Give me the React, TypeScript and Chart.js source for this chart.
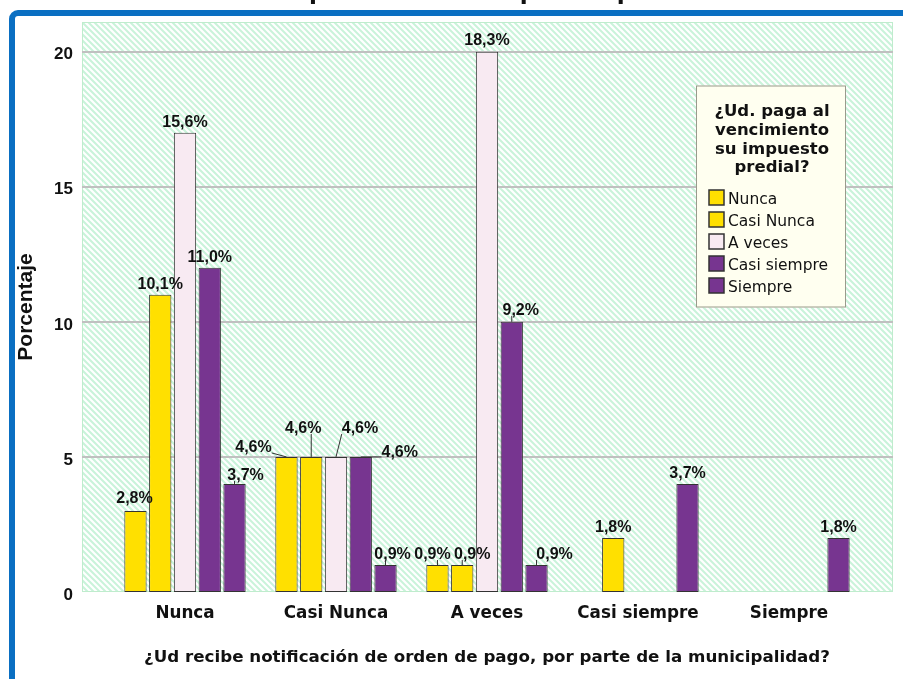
import React, { useEffect, useRef } from "react";
import { Chart, registerables } from "chart.js";

Chart.register(...registerables);

// ---------- data ----------
const categories = ["Nunca", "Casi Nunca", "A veces", "Casi siempre", "Siempre"];
const seriesNames = ["Nunca", "Casi Nunca", "A veces", "Casi siempre", "Siempre"];

// bar heights (counts)
const nuncaValues = [3, 5, 1, null, null];
const casiNuncaValues = [11, 5, 1, 2, null];
const aVecesValues = [17, 5, 20, null, null];
const casiSiempreValues = [12, 5, 10, null, null];
const siempreValues = [4, 1, 1, 4, 2];

// printed percentage labels
const nuncaLabels = ["2,8%", "4,6%", "0,9%", "", ""];
const casiNuncaLabels = ["10,1%", "4,6%", "0,9%", "1,8%", ""];
const aVecesLabels = ["15,6%", "4,6%", "18,3%", "", ""];
const casiSiempreLabels = ["11,0%", "4,6%", "9,2%", "", ""];
const siempreLabels = ["3,7%", "0,9%", "0,9%", "3,7%", "1,8%"];

const yTickValues = [0, 5, 10, 15, 20];

const chartTitle = "de cumplimiento del impuesto predial";
const xAxisTitle = "¿Ud recibe notificación de orden de pago, por parte de la municipalidad?";
const yAxisTitle = "Porcentaje";
const legendTitleLines = ["¿Ud. paga al", "vencimiento", "su impuesto", "predial?"];

// ---------- styling ----------
const seriesValues = [nuncaValues, casiNuncaValues, aVecesValues, casiSiempreValues, siempreValues];
const seriesLabels = [nuncaLabels, casiNuncaLabels, aVecesLabels, casiSiempreLabels, siempreLabels];
const seriesColors = ["#FFE000", "#FFE000", "#F8EAF2", "#773590", "#773590"];

// label placement tweaks: "series-category" -> [dx, dy of baseline from bar top, leader line]
const labelPlacement: Record<string, [number, number, boolean]> = {
  "0-0": [-1, -8, false],
  "4-0": [11, -4, true],
  "0-1": [-33, -5, true],
  "1-1": [-8, -24, true],
  "2-1": [24, -24, true],
  "3-1": [39, 0, true],
  "4-1": [7, -6, true],
  "0-2": [-5, -6, true],
  "1-2": [10, -6, true],
  "2-2": [0, -7, false],
  "3-2": [9, -7, true],
  "4-2": [18, -6, true],
};

const PLOT_PAD_LEFT = 27.5;
const PLOT_PAD_RIGHT = 28.5;

const decorPlugin = {
  id: "decor",
  beforeDraw(chart: any) {
    const { ctx, chartArea, width, height } = chart;
    ctx.save();
    ctx.fillStyle = "#ffffff";
    ctx.fillRect(0, 0, width, height);

    // cut-off title
    ctx.fillStyle = "#111";
    ctx.font = "bold 23px 'DejaVu Sans'";
    ctx.textAlign = "left";
    ctx.textBaseline = "alphabetic";
    ctx.fillText(chartTitle, 215, -1);

    // blue frame
    ctx.strokeStyle = "#0a6fc2";
    ctx.lineWidth = 6;
    ctx.beginPath();
    const fx = 12, fy = 13, r = 6;
    ctx.moveTo(fx, height + 20);
    ctx.lineTo(fx, fy + r);
    ctx.arcTo(fx, fy, fx + r, fy, r);
    ctx.lineTo(width + 20, fy);
    ctx.stroke();

    // hatched plot background
    const x0 = chartArea.left - PLOT_PAD_LEFT;
    const x1 = chartArea.right + PLOT_PAD_RIGHT;
    const y0 = chartArea.top;
    const y1 = chartArea.bottom;
    ctx.save();
    ctx.beginPath();
    ctx.rect(x0, y0, x1 - x0, y1 - y0);
    ctx.clip();
    ctx.strokeStyle = "#c9f3da";
    ctx.lineWidth = 2;
    const h = y1 - y0;
    for (let k = -h; k < x1 - x0 + h; k += 6) {
      ctx.beginPath();
      ctx.moveTo(x0 + k, y0);
      ctx.lineTo(x0 + k + h, y1);
      ctx.stroke();
    }
    ctx.restore();
    ctx.strokeStyle = "#bfeccd";
    ctx.lineWidth = 1;
    ctx.strokeRect(x0 + 0.5, y0 + 0.5, x1 - x0 - 1, y1 - y0 - 1);

    // grid lines
    const ys = chart.scales.y;
    ctx.strokeStyle = "#c0c0c0";
    ctx.lineWidth = 2;
    yTickValues.forEach((v) => {
      if (v === 0) return;
      const py = Math.round(ys.getPixelForValue(v));
      ctx.beginPath();
      ctx.moveTo(x0, py);
      ctx.lineTo(x1, py);
      ctx.stroke();
    });
    ctx.restore();
  },
  afterDraw(chart: any) {
    const { ctx } = chart;
    ctx.save();
    // value labels
    ctx.font = "bold 16px 'Liberation Sans'";
    ctx.fillStyle = "#111";
    ctx.strokeStyle = "#333";
    ctx.lineWidth = 1;
    ctx.textAlign = "center";
    ctx.textBaseline = "alphabetic";
    seriesLabels.forEach((labels, s) => {
      const meta = chart.getDatasetMeta(s);
      labels.forEach((txt, i) => {
        if (!txt) return;
        const el = meta.data[i];
        if (!el) return;
        const bx = el.x;
        const by = el.y;
        const p = labelPlacement[`${s}-${i}`] || [0, -6, false];
        const cx = bx + p[0];
        const base = by + p[1];
        ctx.fillText(txt, cx, base);
        if (p[2]) {
          const w = ctx.measureText(txt).width;
          const left = cx - w / 2, right = cx + w / 2;
          const top = base - 12, bottom = base + 1;
          const px = Math.min(Math.max(bx, left), right);
          const py = Math.min(Math.max(by, top), bottom);
          ctx.beginPath();
          ctx.moveTo(bx, by);
          ctx.lineTo(px, py);
          ctx.stroke();
        }
      });
    });

    // legend
    const lx = 696, ly = 85.5, lw = 150, lh = 222;
    ctx.fillStyle = "#fffff0";
    ctx.fillRect(lx, ly, lw, lh);
    ctx.strokeStyle = "#9a9a8c";
    ctx.lineWidth = 1;
    ctx.strokeRect(lx + 0.5, ly + 0.5, lw - 1, lh - 1);
    ctx.fillStyle = "#111";
    ctx.font = "bold 16.5px 'DejaVu Sans'";
    ctx.textAlign = "center";
    const titleBases = [116, 135, 153.5, 172];
    legendTitleLines.forEach((t, k) => ctx.fillText(t, lx + lw / 2 + 1, titleBases[k]));
    ctx.font = "15.5px 'DejaVu Sans'";
    ctx.textAlign = "left";
    chart.data.datasets.forEach((ds: any, k: number) => {
      const base = 204 + 22 * k;
      ctx.fillStyle = ds.backgroundColor;
      ctx.fillRect(709, base - 14, 15, 15);
      ctx.strokeStyle = "#333";
      ctx.lineWidth = 1.5;
      ctx.strokeRect(709, base - 14, 15, 15);
      ctx.fillStyle = "#111";
      ctx.fillText(ds.label, 728, base);
    });
    ctx.restore();
  },
};

export default function App() {
  const ref = useRef<HTMLCanvasElement>(null);
  useEffect(() => {
    document.body.style.margin = "0";
    const canvas = ref.current!;
    const chart = new Chart(canvas, {
      type: "bar",
      data: {
        labels: categories,
        datasets: seriesNames.map((name, s) => ({
          label: name,
          data: seriesValues[s] as any,
          backgroundColor: seriesColors[s],
          borderColor: "#333333",
          borderWidth: 1,
          borderSkipped: false,
          categoryPercentage: 0.82,
          barPercentage: 0.9,
        })),
      },
      options: {
        responsive: false,
        animation: false,
        devicePixelRatio: 1,
        layout: { padding: { left: 0, right: 38.5, top: 22, bottom: 0 } },
        plugins: {
          legend: { display: false },
          tooltip: { enabled: false },
          title: { display: false },
        },
        scales: {
          x: {
            type: "category",
            grid: { display: false, drawTicks: false },
            border: { display: false },
            ticks: {
              color: "#111",
              font: { family: "'DejaVu Sans'", weight: "bold", size: 16.8 },
              padding: 12,
              maxRotation: 0,
              autoSkip: false,
            },
            title: {
              display: true,
              text: xAxisTitle,
              color: "#111",
              font: { family: "'DejaVu Sans'", weight: "bold", size: 16.7 },
              padding: { top: 0, bottom: 11 },
            },
            afterFit: (s: any) => {
              s.height = 87;
              s.paddingLeft = 0;
              s.paddingRight = 0;
            },
          },
          y: {
            min: 0,
            max: 21.1,
            grid: { display: false, drawTicks: false },
            border: { display: false },
            afterBuildTicks: (s: any) => {
              s.ticks = yTickValues.map((v) => ({ value: v }));
            },
            ticks: {
              color: "#111",
              font: { family: "'Liberation Sans'", weight: "bold", size: 17 },
              padding: 36.5,
              labelOffset: 3,
            },
            title: {
              display: true,
              text: yAxisTitle,
              color: "#111",
              font: { family: "'Liberation Sans'", weight: "bold", size: 21 },
              padding: { top: 14, bottom: 0 },
            },
            afterFit: (s: any) => {
              s.width = 109.5;
              s.paddingTop = 0;
              s.paddingBottom = 0;
            },
          },
        },
      } as any,
      plugins: [decorPlugin],
    });
    return () => chart.destroy();
  }, []);
  return <canvas ref={ref} width={903} height={679} style={{ display: "block" }} />;
}
